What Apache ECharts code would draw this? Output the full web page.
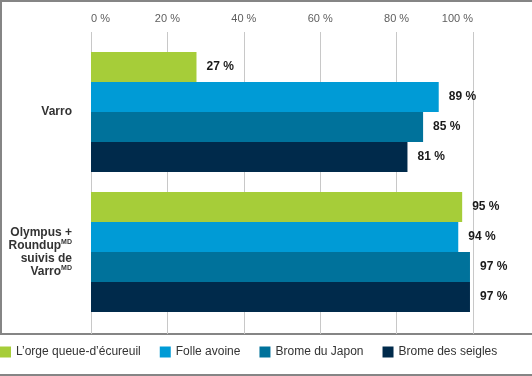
<!DOCTYPE html>
<html>
<head>
<meta charset="utf-8">
<script src="https://cdn.jsdelivr.net/npm/echarts@6/dist/echarts.min.js"></script>
<style>
  html, body { margin: 0; padding: 0; background: #fff; }
  #chart { width: 532px; height: 376px; }
</style>
</head>
<body>
<div id="chart"></div>
<script>
// categories (top to bottom), {sup|..} = superscript
var categories = ['Varro', 'Olympus +\nRoundup{sup|MD}\nsuivis de\nVarro{sup|MD}'];
var seriesNames = ['L’orge queue-d’écureuil', 'Folle avoine', 'Brome du Japon', 'Brome des seigles'];
var seriesColors = ['#a6cd39', '#009bd6', '#00729b', '#002a4b'];
var orgeValues = [27, 95];
var folleValues = [89, 94];
var japonValues = [85, 97];
var seiglesValues = [81, 97];
var seriesValues = [orgeValues, folleValues, japonValues, seiglesValues];

var chart = echarts.init(document.getElementById('chart'));

var series = seriesNames.map(function(name, i) {
  return {
    name: name,
    type: 'bar',
    xAxisIndex: 1,
    yAxisIndex: 1,
    data: seriesValues[i],
    barWidth: 30,
    barGap: '0%',
    itemStyle: { color: seriesColors[i] },
    label: {
      show: true,
      position: 'right',
      distance: 10,
      formatter: '{c} %',
      fontFamily: 'Liberation Sans',
      fontSize: 12,
      fontWeight: 'bold',
      color: '#1a1a1a'
    }
  };
});

var option = {
  animation: false,
  textStyle: { fontFamily: 'Liberation Sans' },
  grid: [
    // gridlines + top labels
    { left: 91, right: 59, top: 32, bottom: 42 },
    // bars
    { left: 91, right: 50.3, top: 42, bottom: 54 }
  ],
  xAxis: [{
    gridIndex: 0,
    type: 'value',
    position: 'top',
    min: 0,
    max: 100,
    interval: 20,
    axisLine: { show: false },
    axisTick: { show: false },
    axisLabel: {
      margin: 8,
      formatter: '{value} %',
      fontFamily: 'Liberation Sans',
      fontSize: 11,
      color: '#5e5e5e',
      alignMinLabel: 'left',
      alignMaxLabel: 'right'
    },
    splitLine: { show: true, lineStyle: { color: '#c8c8c8', width: 1 } }
  }, {
    gridIndex: 1,
    type: 'value',
    min: 0,
    max: 100,
    show: false
  }],
  yAxis: [{
    gridIndex: 0,
    type: 'value',
    show: false
  }, {
    gridIndex: 1,
    type: 'category',
    inverse: true,
    data: categories,
    axisLine: { show: false },
    axisTick: { show: false },
    axisLabel: {
      margin: 19,
      fontFamily: 'Liberation Sans',
      fontSize: 12,
      fontWeight: 'bold',
      color: '#333',
      lineHeight: 13,
      rich: {
        sup: {
          fontFamily: 'Liberation Sans',
          fontSize: 7,
          fontWeight: 'bold',
          color: '#333',
          verticalAlign: 'top',
          lineHeight: 13
        }
      }
    }
  }],
  legend: {
    left: 0,
    top: 346,
    padding: 0,
    icon: 'rect',
    itemWidth: 11,
    itemHeight: 11,
    itemGap: 19,
    textStyle: { fontFamily: 'Liberation Sans', fontSize: 12, color: '#333' },
    data: seriesNames
  },
  graphic: [
    { type: 'rect', shape: { x: 0, y: 0, width: 532, height: 2 }, style: { fill: '#858585' } },
    { type: 'rect', shape: { x: 0, y: 0, width: 2, height: 334 }, style: { fill: '#858585' } },
    { type: 'rect', shape: { x: 0, y: 333, width: 532, height: 2 }, style: { fill: '#858585' } },
    { type: 'rect', shape: { x: 0, y: 374, width: 532, height: 2 }, style: { fill: '#858585' } }
  ],
  series: series
};

chart.setOption(option);
</script>
</body>
</html>
